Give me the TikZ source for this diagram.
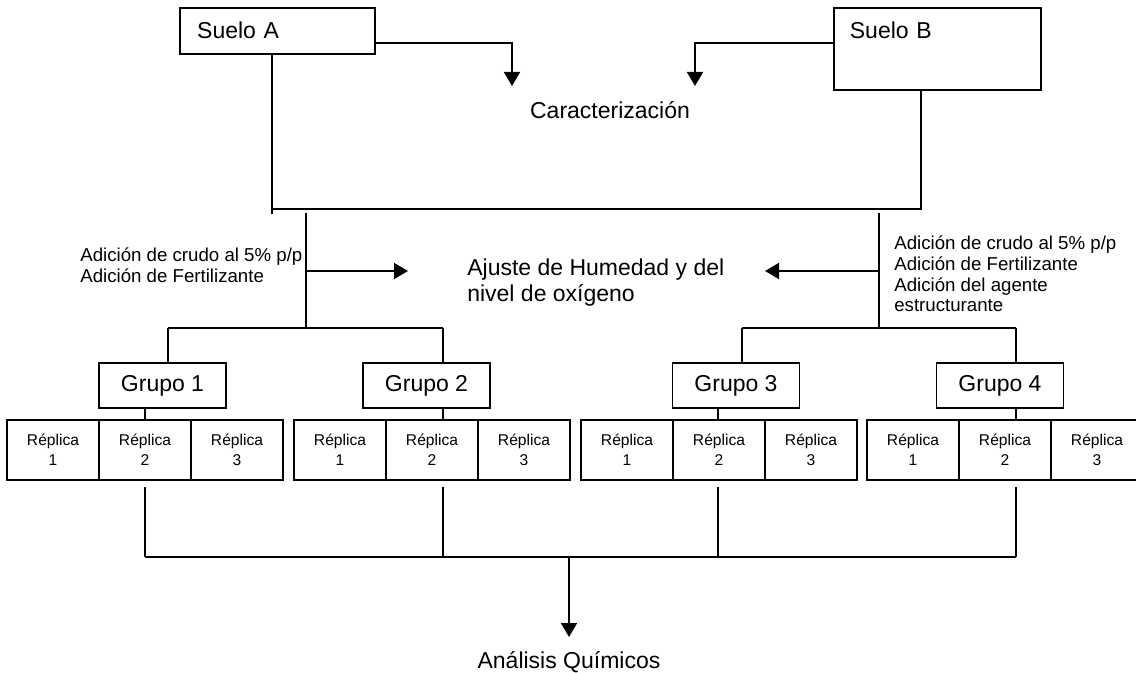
\documentclass[tikz,border=0pt]{standalone}
\usepackage{fontspec}
\setmainfont{Liberation Sans}
\usepackage{tikz}
\usetikzlibrary{positioning}
\usetikzlibrary{arrows.meta}
\newcommand{\grande}{\fontsize{17.25}{19.5}\selectfont}
\newcommand{\mediano}{\fontsize{14}{15.6}\selectfont}
\newcommand{\chico}{\fontsize{11.7}{15}\selectfont}
\tikzset {
  node distance={69pt},
  % soil sample boxes, text in the upper left corner
  suelo/.style = {draw, anchor=north west, inner ysep=0pt, text height=23.25pt, align=left, font=\grande},
  % group boxes
  grupo/.style = {draw, minimum width=95.25pt, minimum height=33.75pt, inner sep=0pt, font=\grande},
  % replica boxes, side by side
  replica/.style = {draw, minimum width=69pt, minimum height=45pt, inner sep=0pt, align=center, font=\chico},
  % plain texts
  texto/.style = {align=left, font=\grande},
  nota/.style = {align=left, anchor=west, font=\mediano},
  flecha/.style = {-{Triangle[length=10.5pt,width=12pt]}},
}
\begin{document}
\begin{tikzpicture}[x=0.75pt, y=-0.75pt, line width=1.3pt]
        \useasboundingbox (0,0) rectangle (1136,673);

        \node[suelo, inner xsep=13pt, text width=120.25pt, text depth=11.25pt] (sA) at (179,7) {Suelo A};
        \node[suelo, inner xsep=12pt, text width=131.25pt, text depth=38.25pt] (sB) at (833,7) {Suelo B};
        \node[texto] (car) at (610,110) {Caracterización};
        \node[texto, anchor=west] (aju) at (462,283) {Ajuste de Humedad y del\\nivel de oxígeno};
        \node[nota] (addA) at (75,265.5) {Adición de crudo al 5\% p/p\\Adición de Fertilizante};
        \node[nota] (addB) at (889,274) {Adición de crudo al 5\% p/p\\Adición de Fertilizante\\Adición del agente\\estructurante};

        \node[grupo] (g1) at (162.5,385.5) {Grupo 1};
        \node[grupo] (g2) at (426.5,385.5) {Grupo 2};
        \node[grupo] (g3) at (736,385.5) {Grupo 3};
        \node[grupo] (g4) at (1000,385.5) {Grupo 4};

        \node[replica] (r11) at (53,450) {Réplica\\1};
        \node[replica] (r12) [right of=r11] {Réplica\\2};
        \node[replica] (r13) [right of=r12] {Réplica\\3};
        \node[replica] (r21) at (340,450) {Réplica\\1};
        \node[replica] (r22) [right of=r21] {Réplica\\2};
        \node[replica] (r23) [right of=r22] {Réplica\\3};
        \node[replica] (r31) at (627,450) {Réplica\\1};
        \node[replica] (r32) [right of=r31] {Réplica\\2};
        \node[replica] (r33) [right of=r32] {Réplica\\3};
        \node[replica] (r41) at (913,450) {Réplica\\1};
        \node[replica] (r42) [right of=r41] {Réplica\\2};
        \node[replica] (r43) [right of=r42] {Réplica\\3};

        \node[texto] (ana) at (569,662) {Análisis Químicos};

        % arrows to the characterization
        \coordinate (cA) at (512,86);
        \coordinate (cB) at (695,86);
        \draw [flecha] ([yshift=-9pt]sA.east) -| (cA);
        \draw [flecha] ([yshift=4.5pt]sB.west) -| (cB);

        % both soils joined
        \coordinate (tA) at (272,209);
        \coordinate (tB) at (921,209);
        \draw [-] (sA.south -| tA) -- ([yshift=-4pt]tA);
        \draw [-] (tA) -- (tB) -- (sB.south -| tB);

        % moisture and oxygen adjustment
        \coordinate (bA) at (306,213);
        \coordinate (bB) at (879,213);
        \coordinate (mA) at (306,271);
        \coordinate (mB) at (879,271);
        \coordinate (eA) at (408,271);
        \coordinate (eB) at (765,271);
        \coordinate (k1) at (168,328);
        \coordinate (k2) at (443,328);
        \coordinate (k3) at (742,328);
        \coordinate (k4) at (1016,328);
        \draw [-] (bA) -- (k1 -| bA);
        \draw [-] (bB) -- (k3 -| bB);
        \draw [flecha] (mA) -- (eA);
        \draw [flecha] (mB) -- (eB);
        \draw [-] (k1) -- (k2);
        \draw [-] (k3) -- (k4);

        % groups and replicas
        \coordinate (u1) at (145,487);
        \coordinate (u2) at (443,487);
        \coordinate (u3) at (718,487);
        \coordinate (u4) at (1016,487);
        \foreach \i in {1,...,4} {
          \draw [-] (k\i) -- (k\i |- g\i.north);
          \draw [-] (g\i.south -| u\i) -- (u\i |- r\i2.north);
        }

        % chemical analysis
        \coordinate (d1) at (145,557);
        \coordinate (d2) at (443,557);
        \coordinate (d3) at (718,557);
        \coordinate (d4) at (1016,557);
        \coordinate (dm) at (569,557);
        \coordinate (aT) at (569,637);
        \foreach \i in {1,...,4}
          \draw [-] (u\i) -- (d\i);
        \draw [-] (d1) -- (d4);
        \draw [flecha] (dm) -- (aT);
      \end{tikzpicture}
\end{document}
